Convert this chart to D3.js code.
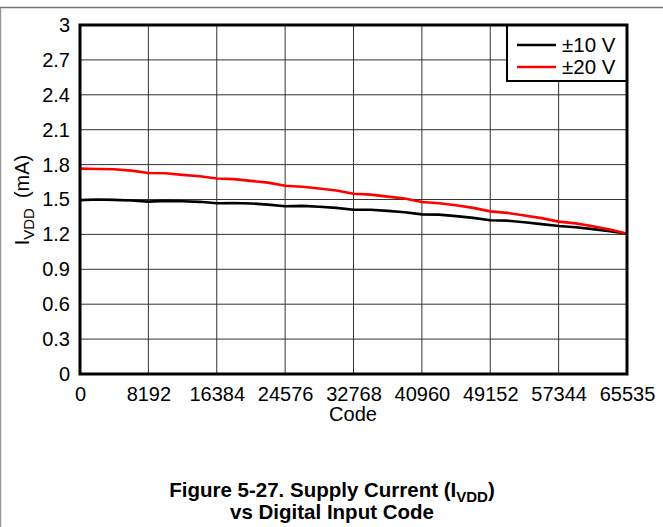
<!DOCTYPE html>
<html>
<head>
<meta charset="utf-8">
<title>Supply Current vs Digital Input Code</title>
<script src="https://cdn.jsdelivr.net/npm/d3@7"></script>
<style>
  body { margin: 0; background: #fff; }
  text { font-family: "Liberation Sans", Arial, sans-serif; fill: #000; }
</style>
</head>
<body>
<svg id="chart" width="663" height="527"></svg>
<script>
var codes = [0, 2048, 4096, 6144, 8192, 10240, 12288, 14336, 16384, 18432, 20480, 22528,
  24576, 26624, 28672, 30720, 32768, 34816, 36864, 38912, 40960, 43008, 45056, 47104,
  49152, 51200, 53248, 55296, 57344, 59392, 61440, 63488, 65535];
var i10v = [1.495, 1.500, 1.497, 1.492, 1.482, 1.488, 1.485, 1.480, 1.468, 1.470, 1.466, 1.456,
  1.442, 1.445, 1.438, 1.428, 1.412, 1.412, 1.402, 1.390, 1.372, 1.370, 1.357, 1.342,
  1.322, 1.318, 1.305, 1.288, 1.272, 1.262, 1.245, 1.228, 1.205];
var i20v = [1.765, 1.762, 1.760, 1.748, 1.728, 1.725, 1.712, 1.700, 1.680, 1.675, 1.660, 1.645,
  1.618, 1.610, 1.595, 1.578, 1.550, 1.542, 1.525, 1.508, 1.478, 1.468, 1.450, 1.428,
  1.398, 1.385, 1.362, 1.340, 1.310, 1.295, 1.270, 1.242, 1.205];
var xTicks = [0, 8192, 16384, 24576, 32768, 40960, 49152, 57344, 65535];
var yTicks = [0, 0.3, 0.6, 0.9, 1.2, 1.5, 1.8, 2.1, 2.4, 2.7, 3];
var seriesNames = ["\u00b110 V", "\u00b120 V"];
var seriesColors = ["#000000", "#ff0000"];

var svg = d3.select("#chart");
var pLeft = 80, pRight = 627, pTop = 25, pBottom = 374;

var x = d3.scaleLinear().domain([0, 65535]).range([pLeft, pRight]);
var y = d3.scaleLinear().domain([0, 3]).range([pBottom, pTop]);

// page frame lines
svg.append("line").attr("x1", 0).attr("x2", 663).attr("y1", 7.5).attr("y2", 7.5)
  .attr("stroke", "#777").attr("stroke-width", 1.5);
svg.append("line").attr("x1", 0.5).attr("x2", 0.5).attr("y1", 8).attr("y2", 527)
  .attr("stroke", "#999").attr("stroke-width", 1.5);

// grid
svg.append("g").selectAll("line").data(xTicks.slice(1, -1)).enter().append("line")
  .attr("x1", function(d) { return x(d); }).attr("x2", function(d) { return x(d); })
  .attr("y1", pTop).attr("y2", pBottom)
  .attr("stroke", "#333").attr("stroke-width", 1);
svg.append("g").selectAll("line").data(yTicks.slice(1, -1)).enter().append("line")
  .attr("x1", pLeft).attr("x2", pRight)
  .attr("y1", function(d) { return y(d); }).attr("y2", function(d) { return y(d); })
  .attr("stroke", "#333").attr("stroke-width", 1);

// axes (labels only)
var yAxis = svg.append("g").attr("transform", "translate(" + pLeft + ",0)")
  .call(d3.axisLeft(y).tickValues(yTicks).tickSize(0).tickPadding(10)
    .tickFormat(function(d) { return String(+d.toFixed(1)); }));
yAxis.select(".domain").remove();
yAxis.selectAll("text").style("font-size", "20px").style("font-family", "Liberation Sans, Arial, sans-serif");

var xAxis = svg.append("g").attr("transform", "translate(0," + pBottom + ")")
  .call(d3.axisBottom(x).tickValues(xTicks).tickSize(0).tickPadding(13).tickFormat(d3.format("d")));
xAxis.select(".domain").remove();
xAxis.selectAll("text").style("font-size", "20px").style("font-family", "Liberation Sans, Arial, sans-serif");

// curves
var line = d3.line()
  .x(function(d) { return x(d[0]); })
  .y(function(d) { return y(d[1]); });
[i10v, i20v].forEach(function(vals, k) {
  svg.append("path")
    .datum(codes.map(function(c, j) { return [c, vals[j]]; }))
    .attr("d", line)
    .attr("fill", "none")
    .attr("stroke", seriesColors[k])
    .attr("stroke-width", 2.6)
    .attr("stroke-linejoin", "round");
});

// legend
var lg = svg.append("g");
lg.append("rect").attr("x", 507).attr("y", pTop).attr("width", pRight - 507).attr("height", 56)
  .attr("fill", "#fff").attr("stroke", "#000").attr("stroke-width", 2);
seriesNames.forEach(function(name, k) {
  var ly = 45 + k * 22;
  lg.append("line").attr("x1", 517).attr("x2", 556).attr("y1", ly).attr("y2", ly)
    .attr("stroke", seriesColors[k]).attr("stroke-width", 2.5);
  lg.append("text").attr("x", 562).attr("y", ly + 7).style("font-size", "20.5px").text(name);
});

// plot frame
svg.append("rect").attr("x", pLeft).attr("y", pTop).attr("width", pRight - pLeft).attr("height", pBottom - pTop)
  .attr("fill", "none").attr("stroke", "#000").attr("stroke-width", 3);

// axis titles
svg.append("text").attr("x", 353).attr("y", 421).attr("text-anchor", "middle")
  .style("font-size", "20px").text("Code");

var yt = svg.append("text").attr("transform", "translate(29,200) rotate(-90)")
  .attr("text-anchor", "middle").style("font-size", "20px");
yt.append("tspan").text("I");
yt.append("tspan").attr("dy", 5).style("font-size", "15px").text("VDD");
yt.append("tspan").attr("dy", -5).text("\u2002(mA)");

// figure caption
var t1 = svg.append("text").attr("x", 332).attr("y", 497).attr("text-anchor", "middle")
  .style("font-size", "20.5px").style("font-weight", "bold");
t1.append("tspan").text("Figure 5-27. Supply Current (I");
t1.append("tspan").attr("dy", 5).style("font-size", "15px").text("VDD");
t1.append("tspan").attr("dy", -5).text(")");
svg.append("text").attr("x", 332).attr("y", 519).attr("text-anchor", "middle")
  .style("font-size", "20.5px").style("font-weight", "bold").text("vs Digital Input Code");
</script>
</body>
</html>
